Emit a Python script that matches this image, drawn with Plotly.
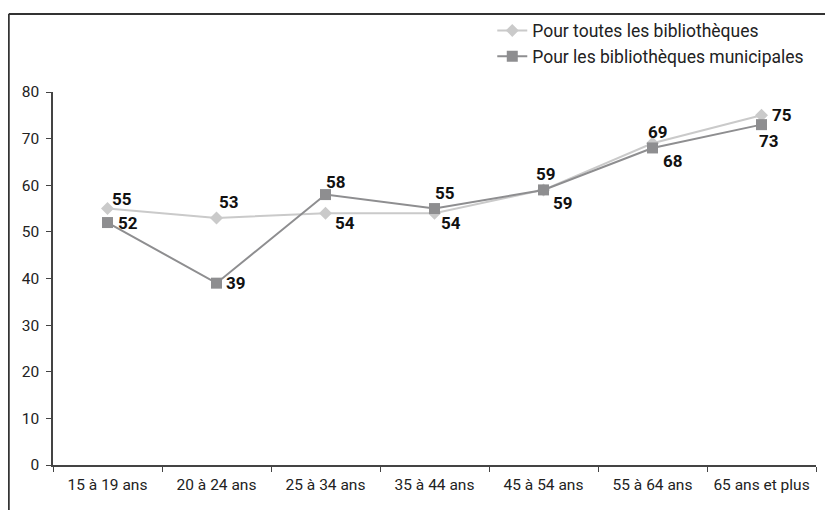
import plotly.graph_objects as go

categories = ["15 à 19 ans", "20 à 24 ans", "25 à 34 ans", "35 à 44 ans",
              "45 à 54 ans", "55 à 64 ans", "65 ans et plus"]
toutes = [55, 53, 54, 54, 59, 69, 75]
municipales = [52, 39, 58, 55, 59, 68, 73]
name_toutes = "Pour toutes les bibliothèques"
name_muni = "Pour les bibliothèques municipales"
y_ticks = [0, 10, 20, 30, 40, 50, 60, 70, 80]

# label offsets in pixels (style only)
off_toutes = [(14, 10), (12, 16), (19, -10), (16, -10), (19, -13), (5, 11), (20, 0)]
off_muni = [(20, 0), (19, 0), (10, 13), (10, 16), (2, 16), (20, -13), (7, -16)]

FONT = "Roboto, 'Open Sans', sans-serif"
C1 = "#cacaca"
C2 = "#8e8e90"

fig = go.Figure()
fig.add_trace(go.Scatter(x=categories, y=toutes, name=name_toutes, mode="lines+markers",
                         line=dict(color=C1, width=2),
                         marker=dict(symbol="diamond", size=10, color=C1)))
fig.add_trace(go.Scatter(x=categories, y=municipales, name=name_muni, mode="lines+markers",
                         line=dict(color=C2, width=2),
                         marker=dict(symbol="square", size=11, color=C2)))

ann = []
for vals, offs in ((toutes, off_toutes), (municipales, off_muni)):
    for c, v, (dx, dy) in zip(categories, vals, offs):
        ann.append(dict(x=c, y=v, text=f"<b>{v}</b>", showarrow=False,
                        xshift=dx, yshift=dy,
                        font=dict(family=FONT, size=17, color="#111111")))

fig.update_layout(
    width=825, height=502,
    margin=dict(l=45, r=17, t=84, b=45, autoexpand=False),
    paper_bgcolor="white", plot_bgcolor="white",
    font=dict(family=FONT, size=15, color="#222222"),
    showlegend=True,
    legend=dict(xref="container", yref="container", x=0.587, y=0.991,
                xanchor="left", yanchor="top",
                bgcolor="rgba(0,0,0,0)", font=dict(size=17.5, color="#222222"),
                tracegroupgap=0, itemwidth=30),
    annotations=ann,
    xaxis=dict(type="category", range=[-0.5, 6.5], showline=True, linecolor="#444444",
               linewidth=1.5, ticks="outside", tickson="boundaries", ticklen=5,
               tickcolor="#444444", showgrid=False, zeroline=False,
               ticklabelstandoff=5, tickfont=dict(size=15.5)),
    yaxis=dict(range=[0, 80], tickvals=y_ticks, showline=True, linecolor="#444444",
               linewidth=1.5, ticks="outside", ticklen=5, tickcolor="#444444",
               showgrid=False, zeroline=False, ticklabelstandoff=4,
               tickfont=dict(size=15.5)),
    shapes=[
        dict(type="line", xref="paper", yref="paper", x0=-0.058, x1=1.03,
             y0=1.209, y1=1.209, line=dict(color="#333333", width=2), layer="above"),
        dict(type="line", xref="paper", yref="paper", x0=-0.058, x1=-0.058,
             y0=1.209, y1=-0.13, line=dict(color="#333333", width=2), layer="above"),
    ],
)

fig.write_html("out.html")
